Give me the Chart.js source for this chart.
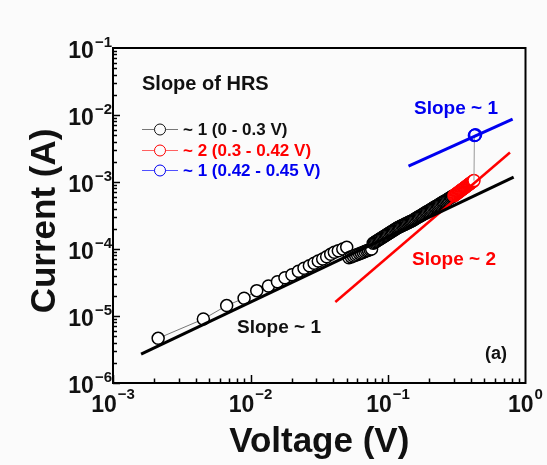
<!DOCTYPE html>
<html>
<head>
<meta charset="utf-8">
<script src="https://cdn.jsdelivr.net/npm/chart.js@4.4.1/dist/chart.umd.min.js"></script>
<style>
  html, body { margin: 0; padding: 0; background: #fbfbfb; }
  #wrap { width: 547px; height: 465px; }
</style>
</head>
<body>
<div id="wrap"><canvas id="ivChart" width="547" height="465"></canvas></div>
<script>
// HRS I-V data
var blackV = [0.00213, 0.00454, 0.00671, 0.00898, 0.0111, 0.0135, 0.0157, 0.0178, 0.0200, 0.0223,
  0.0245, 0.0268, 0.0290, 0.0311, 0.0335, 0.0358, 0.0383, 0.0407, 0.0435, 0.0469, 0.0501,
  0.052, 0.054, 0.056, 0.058, 0.060, 0.062, 0.064, 0.066, 0.068, 0.070, 0.072, 0.074, 0.076,
  0.0780, 0.0796, 0.0812, 0.0828, 0.0845, 0.0862, 0.0879, 0.0897, 0.0915, 0.0933, 0.0952, 0.0971, 0.0990,
  0.1010, 0.1030, 0.1051, 0.1072, 0.1093, 0.1115, 0.1137, 0.1160, 0.1183, 0.1207, 0.1231, 0.1256,
  0.1281, 0.1307, 0.1333, 0.1360, 0.1387, 0.1415, 0.1443, 0.1472, 0.1501, 0.1531,
  0.1562, 0.1593, 0.1625, 0.1658, 0.1691, 0.1725, 0.1759, 0.1794, 0.1830, 0.1867, 0.1904, 0.1942,
  0.1981, 0.2021, 0.2061, 0.2102, 0.2144, 0.2187, 0.2231, 0.2276, 0.2321, 0.2368, 0.2415, 0.2463,
  0.2513, 0.2563, 0.2614, 0.2667, 0.2720, 0.2774, 0.2830, 0.2887, 0.2944, 0.3003];
var blackI = [4.64e-6, 9.0e-6, 1.43e-5, 1.84e-5, 2.39e-5, 2.81e-5, 3.25e-5, 3.73e-5, 4.13e-5, 4.65e-5,
  5.15e-5, 5.64e-5, 6.12e-5, 6.62e-5, 7.09e-5, 7.67e-5, 8.33e-5, 8.93e-5, 9.4e-5, 1.0e-4, 1.06e-4,
  7.40e-5, 7.63e-5, 7.85e-5, 8.08e-5, 8.30e-5, 8.52e-5, 8.74e-5, 8.95e-5, 9.17e-5, 9.39e-5, 9.60e-5, 9.81e-5, 1.0e-4,
  1.220e-4, 1.253e-4, 1.286e-4, 1.318e-4, 1.354e-4, 1.389e-4, 1.425e-4, 1.463e-4, 1.501e-4, 1.540e-4, 1.581e-4, 1.622e-4, 1.663e-4,
  1.707e-4, 1.751e-4, 1.798e-4, 1.845e-4, 1.892e-4, 1.941e-4, 1.991e-4, 2.047e-4, 2.088e-4, 2.130e-4, 2.172e-4, 2.216e-4,
  2.261e-4, 2.306e-4, 2.352e-4, 2.400e-4, 2.448e-4, 2.497e-4, 2.546e-4, 2.598e-4, 2.649e-4, 2.702e-4,
  2.780e-4, 2.849e-4, 2.920e-4, 2.994e-4, 3.068e-4, 3.145e-4, 3.222e-4, 3.301e-4, 3.384e-4, 3.469e-4, 3.554e-4, 3.642e-4,
  3.733e-4, 3.827e-4, 3.921e-4, 4.018e-4, 4.118e-4, 4.221e-4, 4.326e-4, 4.434e-4, 4.544e-4, 4.658e-4, 4.773e-4, 4.891e-4,
  5.014e-4, 5.138e-4, 5.265e-4, 5.398e-4, 5.531e-4, 5.668e-4, 5.810e-4, 5.955e-4, 6.102e-4, 6.253e-4];

var redV = [0.302, 0.306, 0.310, 0.314, 0.318, 0.322, 0.326, 0.330, 0.334, 0.338, 0.342, 0.346,
  0.350, 0.354, 0.358, 0.362, 0.366, 0.370, 0.374, 0.378, 0.382, 0.386, 0.390, 0.394, 0.398,
  0.402, 0.406, 0.410, 0.414, 0.418, 0.422];
var redI = [6.26e-4, 6.39e-4, 6.52e-4, 6.65e-4, 6.78e-4, 6.92e-4, 7.05e-4, 7.18e-4, 7.32e-4, 7.45e-4, 7.59e-4, 7.73e-4,
  7.87e-4, 8.01e-4, 8.15e-4, 8.29e-4, 8.43e-4, 8.57e-4, 8.71e-4, 8.86e-4, 9.00e-4, 9.15e-4, 9.30e-4, 9.44e-4, 9.59e-4,
  9.74e-4, 9.89e-4, 1.004e-3, 1.019e-3, 1.035e-3, 1.05e-3];

var blueV = [0.425, 0.429, 0.433];
var blueI = [4.95e-3, 5.0e-3, 5.06e-3];

// vertical jump from the last red point to the first blue one
var jumpV = [0.422, 0.425];
var jumpI = [1.05e-3, 4.95e-3];

// fitted slope lines
var fitBlackV = [0.0016, 0.82];
var fitBlackI = [2.7e-6, 1.18e-3];
var fitRedV = [0.0414, 0.771];
var fitRedI = [1.62e-5, 2.75e-3];
var fitBlueV = [0.141, 0.806];
var fitBlueI = [1.72e-3, 8.65e-3];

var xExps = [-3, -2, -1, 0];
var yExps = [-6, -5, -4, -3, -2, -1];

var legendTitle = 'Slope of HRS';
var legendLabels = ['~ 1 (0 - 0.3 V)', '~ 2 (0.3 - 0.42 V)', '~ 1 (0.42 - 0.45 V)'];

var RED = '#ff0000';
var BLUE = '#0000f0';
var FONT = '"Liberation Sans", Arial, sans-serif';

function pts(xs, ys) {
  return xs.map(function (x, i) { return { x: x, y: ys[i] }; });
}

function expText(e) {
  return (e < 0 ? '\u2212' : '') + Math.abs(e);
}

var framePlugin = {
  id: 'frame',
  beforeDraw: function (chart) {
    var c = chart.ctx;
    c.save();
    c.fillStyle = '#fbfbfb';
    c.fillRect(0, 0, chart.width, chart.height);
    c.restore();
  },
  afterDraw: function (chart) {
    var c = chart.ctx;
    var a = chart.chartArea;
    var xs = chart.scales.x, ys = chart.scales.y;
    c.save();
    c.strokeStyle = '#000';
    c.lineWidth = 2;
    c.strokeRect(a.left, a.top, a.right - a.left, a.bottom - a.top);

    // inward ticks, bottom and left
    c.lineWidth = 1.5;
    c.beginPath();
    var e, k, v, p;
    for (e = -3; e < 0; e++) {
      for (k = 1; k <= 9; k++) {
        v = k * Math.pow(10, e);
        p = Math.round(xs.getPixelForValue(v)) + 0.5;
        c.moveTo(p, a.bottom);
        c.lineTo(p, a.bottom - (k === 1 ? 8 : 4.5));
      }
    }
    for (e = -6; e < -1; e++) {
      for (k = 1; k <= 9; k++) {
        v = k * Math.pow(10, e);
        p = Math.round(ys.getPixelForValue(v)) + 0.5;
        c.moveTo(a.left, p);
        c.lineTo(a.left + (k === 1 ? 7 : 4), p);
      }
    }
    c.stroke();

    // tick labels 10^n
    c.fillStyle = '#111';
    c.textBaseline = 'alphabetic';
    var big = 'bold 23px ' + FONT, small = 'bold 15px ' + FONT;
    xExps.forEach(function (ex) {
      var px = xs.getPixelForValue(Math.pow(10, ex));
      c.font = big;
      var w1 = c.measureText('10').width;
      c.font = small;
      var w2 = c.measureText(expText(ex)).width;
      var x0 = px - (w1 + w2 + 1) / 2;
      c.font = big;
      c.textAlign = 'left';
      c.fillText('10', x0, a.bottom + 29);
      c.font = small;
      c.fillText(expText(ex), x0 + w1 + 1, a.bottom + 16);
    });
    yExps.forEach(function (ex) {
      var py = ys.getPixelForValue(Math.pow(10, ex));
      c.font = small;
      c.textAlign = 'right';
      var w2 = c.measureText(expText(ex)).width;
      c.fillText(expText(ex), a.left - 1, py - 1);
      c.font = big;
      c.fillText('10', a.left - 2 - w2, py + 10);
    });

    // axis titles
    c.font = 'bold 35px ' + FONT;
    c.textAlign = 'center';
    c.textBaseline = 'alphabetic';
    c.fillText('Voltage (V)', (a.left + a.right) / 2, 452);
    c.save();
    c.translate(55, 221);
    c.rotate(-Math.PI / 2);
    c.fillText('Current (A)', 0, 0);
    c.restore();
    c.restore();
  },
  afterDatasetsDraw: function (chart) {
    var c = chart.ctx;
    c.save();
    c.textBaseline = 'middle';
    c.textAlign = 'left';
    c.fillStyle = '#111';
    c.font = 'bold 20px ' + FONT;
    c.fillText(legendTitle, 142, 84);

    var rows = [129, 150, 170];
    var lineCols = ['#777', '#ff6060', '#5050ff'];
    var cols = ['#111', RED, BLUE];
    c.font = 'bold 17px ' + FONT;
    rows.forEach(function (ry, i) {
      c.strokeStyle = lineCols[i];
      c.lineWidth = 1;
      c.beginPath();
      c.moveTo(142, ry + 0.5);
      c.lineTo(178, ry + 0.5);
      c.stroke();
      c.fillStyle = '#fbfbfb';
      c.strokeStyle = cols[i];
      c.beginPath();
      c.arc(160, ry + 0.5, 5.5, 0, Math.PI * 2);
      c.fill();
      c.stroke();
      c.fillStyle = cols[i];
      c.fillText(legendLabels[i], 183, ry + 1);
    });

    c.font = 'bold 19px ' + FONT;
    c.fillStyle = BLUE;
    c.fillText('Slope ~ 1', 414, 109);
    c.fillStyle = RED;
    c.fillText('Slope ~ 2', 412, 260);
    c.fillStyle = '#111';
    c.fillText('Slope ~ 1', 237, 328);
    c.font = 'bold 18px ' + FONT;
    c.fillText('(a)', 485, 354);
    c.restore();
  }
};

var ctx = document.getElementById('ivChart');
var ivChart = new Chart(ctx, {
  type: 'scatter',
  data: {
    datasets: [
      { data: pts(fitBlackV, fitBlackI), showLine: true, borderColor: '#000', borderWidth: 3, pointRadius: 0, order: 0 },
      { data: pts(fitRedV, fitRedI), showLine: true, borderColor: RED, borderWidth: 2.5, pointRadius: 0, order: 0 },
      { data: pts(fitBlueV, fitBlueI), showLine: true, borderColor: BLUE, borderWidth: 3, pointRadius: 0, order: 0 },
      { data: pts(blueV, blueI), showLine: true, borderColor: '#8a8aff', borderWidth: 1,
        pointRadius: 6, pointBorderColor: BLUE, pointBackgroundColor: 'rgba(255,255,255,0)', pointBorderWidth: 1.5, order: 1 },
      { data: pts(jumpV, jumpI), showLine: true, borderColor: '#999', borderWidth: 1, pointRadius: 0, order: 2 },
      { data: pts(redV, redI), showLine: true, borderColor: RED, borderWidth: 1,
        pointRadius: 6, pointBorderColor: RED, pointBackgroundColor: '#fff', pointBorderWidth: 1.5, order: 3 },
      { data: pts(blackV, blackI), showLine: true, borderColor: '#777', borderWidth: 1,
        pointRadius: 6, pointBorderColor: '#000', pointBackgroundColor: '#fff', pointBorderWidth: 1.5, order: 4 }
    ]
  },
  options: {
    responsive: false,
    animation: false,
    devicePixelRatio: 1,
    layout: { padding: { left: 113, right: 21.5, top: 48, bottom: 82 } },
    plugins: { legend: { display: false }, tooltip: { enabled: false } },
    scales: {
      x: { type: 'logarithmic', min: 1e-3, max: 1, display: false },
      y: { type: 'logarithmic', min: 1e-6, max: 1e-1, display: false }
    }
  },
  plugins: [framePlugin]
});
</script>
</body>
</html>
